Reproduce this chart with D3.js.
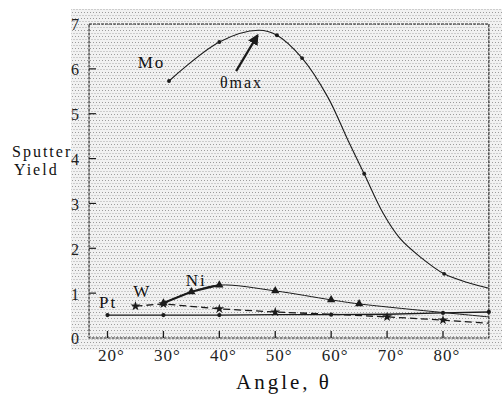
<!DOCTYPE html>
<html>
<head>
<meta charset="utf-8">
<script src="https://cdn.jsdelivr.net/npm/d3@7"></script>
<style>
  body { margin: 0; background: #fff; }
  svg, svg text { font-family: "Liberation Serif", "Times New Roman", Tinos, "Nimbus Roman", "DejaVu Serif", serif; }
</style>
</head>
<body>
<svg id="chart"></svg>
<script>
// tick values
const angleTicks = [20, 30, 40, 50, 60, 70, 80];
const yieldTicks = [0, 1, 2, 3, 4, 5, 6, 7];

// Mo (solid curve)
const moAngle = [31, 40, 47, 50.3, 54.8, 59.4, 63.0, 65.9, 69.3, 72.3, 75.9, 80.2, 84.8, 88.2];
const moYield = [5.73, 6.60, 6.86, 6.75, 6.24, 5.37, 4.41, 3.66, 2.78, 2.22, 1.81, 1.43, 1.22, 1.11];
const moMarks = [31, 40, 50.3, 54.8, 65.9, 80.2];

// Ni (solid curve, bold between 30 and 40)
const niAngle = [30, 35, 40, 50, 60, 65, 88.2];
const niYield = [0.78, 1.03, 1.18, 1.05, 0.85, 0.76, 0.47];
const niMarks = [30, 35, 40, 50, 60, 65];

// W (dashed)
const wAngle = [25, 30, 40, 50, 60, 70, 80, 88.2];
const wYield = [0.71, 0.76, 0.65, 0.58, 0.53, 0.47, 0.40, 0.33];
const wMarks = [25, 30, 40, 50, 70, 80];

// Pt (solid, flat)
const ptAngle = [20, 30, 40, 50, 60, 70, 80, 88.2];
const ptYield = [0.51, 0.51, 0.51, 0.52, 0.52, 0.53, 0.56, 0.58];
const ptMarks = [20, 30, 40, 60, 80, 88.2];

// series labels [text, angle, yield]
const seriesLabels = [
    ["Mo", 25.4, 6.02],
    ["Pt", 18.5, 0.67],
    ["W", 24.6, 0.91],
    ["Ni", 34.0, 1.16]
];

document.addEventListener('DOMContentLoaded', () => {
    const W = 502, H = 403;
    const serif = '"Liberation Serif", "Times New Roman", Tinos, "DejaVu Serif", serif';
    const svg = d3.select("#chart").attr("width", W).attr("height", H)
        .attr("font-family", serif);

    const x = d3.scaleLinear().domain([20, 80]).range([107.5, 443]);
    const y = d3.scaleLinear().domain([0, 7]).range([338, 24]);
    const xMin = 16.7, xMax = 88.2;
    const ink = "#1b1b1b";

    // halftone background
    const defs = svg.append("defs");
    const pat = defs.append("pattern").attr("id", "dots")
        .attr("width", 3).attr("height", 6).attr("patternUnits", "userSpaceOnUse");
    pat.append("rect").attr("width", 3).attr("height", 6).attr("fill", "#f1f1f1");
    pat.append("rect").attr("x", 0).attr("y", 0).attr("width", 1).attr("height", 1).attr("fill", "#9c9c9c");
    pat.append("rect").attr("x", 1.5).attr("y", 3).attr("width", 1).attr("height", 1).attr("fill", "#a8a8a8");
    svg.append("rect").attr("x", 71).attr("y", 9).attr("width", W - 71).attr("height", 341)
        .attr("fill", "url(#dots)");

    const g = svg.append("g");

    // frame
    g.append("rect")
        .attr("x", x(xMin)).attr("y", y(7))
        .attr("width", x(xMax) - x(xMin)).attr("height", y(0) - y(7))
        .attr("fill", "none").attr("stroke", ink).attr("stroke-width", 1.1)
        .attr("stroke-dasharray", "3,1");

    // y axis ticks (inward)
    const yAxis = g.append("g").attr("transform", `translate(${x(xMin)},0)`);
    yAxis.selectAll("line").data(yieldTicks.filter(d => d > 0 && d < 7)).enter().append("line")
        .attr("x1", 0).attr("x2", 7).attr("y1", d => y(d)).attr("y2", d => y(d))
        .attr("stroke", ink).attr("stroke-width", 1.2);
    yAxis.selectAll("text").data(yieldTicks).enter().append("text")
        .attr("x", -10).attr("y", d => y(d)).attr("dy", "0.4em")
        .attr("text-anchor", "end").attr("font-size", 16).attr("fill", "#222")
        .attr("font-family", serif)
        .text(d => d);

    // x axis ticks (inward)
    const xAxis = g.append("g").attr("transform", `translate(0,${y(0)})`);
    xAxis.selectAll("line").data(angleTicks).enter().append("line")
        .attr("x1", d => x(d)).attr("x2", d => x(d)).attr("y1", 0).attr("y2", -7)
        .attr("stroke", ink).attr("stroke-width", 1.3);
    xAxis.selectAll("text").data(angleTicks).enter().append("text")
        .attr("x", d => x(d) + 4).attr("y", 23)
        .attr("text-anchor", "middle").attr("font-size", 17).attr("letter-spacing", 1)
        .attr("fill", "#222").attr("font-family", serif)
        .text(d => d + "°");

    // axis titles
    svg.append("text").attr("x", 236).attr("y", 389)
        .attr("font-size", 21).attr("letter-spacing", 3).attr("fill", "#111")
        .attr("font-family", serif)
        .text("Angle, θ");
    svg.append("text").attr("x", 12).attr("y", 157)
        .attr("font-size", 16).attr("letter-spacing", 2).attr("fill", "#111")
        .attr("font-family", serif)
        .text("Sputter");
    svg.append("text").attr("x", 14).attr("y", 175)
        .attr("font-size", 16).attr("letter-spacing", 2).attr("fill", "#111")
        .attr("font-family", serif)
        .text("Yield");

    const zip = (a, b) => a.map((v, i) => [v, b[i]]);
    const curve = d3.line().x(d => x(d[0])).y(d => y(d[1])).curve(d3.curveCatmullRom.alpha(0.5));
    const straight = d3.line().x(d => x(d[0])).y(d => y(d[1]));

    const moPts = zip(moAngle, moYield);
    const niPts = zip(niAngle, niYield);
    const wPts = zip(wAngle, wYield);
    const ptPts = zip(ptAngle, ptYield);

    // lines
    g.append("path").attr("d", straight(ptPts)).attr("fill", "none")
        .attr("stroke", ink).attr("stroke-width", 1.3);
    g.append("path").attr("d", straight(wPts)).attr("fill", "none")
        .attr("stroke", ink).attr("stroke-width", 1.3).attr("stroke-dasharray", "7,4");
    g.append("path").attr("d", curve(niPts)).attr("fill", "none")
        .attr("stroke", ink).attr("stroke-width", 1);
    g.append("path").attr("d", straight(niPts.filter(d => d[0] <= 40))).attr("fill", "none")
        .attr("stroke", ink).attr("stroke-width", 2);
    g.append("path").attr("d", curve(moPts)).attr("fill", "none")
        .attr("stroke", ink).attr("stroke-width", 1.1);

    // markers
    const drawMarks = (pts, marks, type, size) => {
        g.append("g").selectAll("path")
            .data(pts.filter(d => marks.includes(d[0])))
            .enter().append("path")
            .attr("transform", d => `translate(${x(d[0])},${y(d[1])})`)
            .attr("d", d3.symbol().type(type).size(size))
            .attr("fill", ink);
    };
    drawMarks(moPts, moMarks, d3.symbolCircle, 12);
    drawMarks(ptPts, ptMarks, d3.symbolCircle, 14);
    drawMarks(wPts, wMarks, d3.symbolStar, 30);
    drawMarks(niPts, niMarks, d3.symbolTriangle, 30);

    // series labels
    g.selectAll(".series-label").data(seriesLabels).enter().append("text")
        .attr("class", "series-label")
        .attr("x", d => x(d[1])).attr("y", d => y(d[2]))
        .attr("font-size", 17).attr("letter-spacing", 2).attr("fill", "#111")
        .attr("font-family", serif)
        .text(d => d[0]);

    // theta max annotation
    g.append("text").attr("x", x(40.1)).attr("y", y(5.57))
        .attr("font-size", 16).attr("letter-spacing", 2).attr("fill", "#111")
        .attr("font-family", serif)
        .text("θmax");
    defs.append("marker").attr("id", "head")
        .attr("viewBox", "0 0 10 10").attr("refX", 8).attr("refY", 5)
        .attr("markerWidth", 5).attr("markerHeight", 5).attr("orient", "auto")
        .append("path").attr("d", "M0,0 L10,5 L0,10 Z").attr("fill", ink);
    g.append("line")
        .attr("x1", x(43.0)).attr("y1", y(5.95))
        .attr("x2", x(46.8)).attr("y2", y(6.74))
        .attr("stroke", ink).attr("stroke-width", 2.2)
        .attr("marker-end", "url(#head)");
});
</script>
</body>
</html>
